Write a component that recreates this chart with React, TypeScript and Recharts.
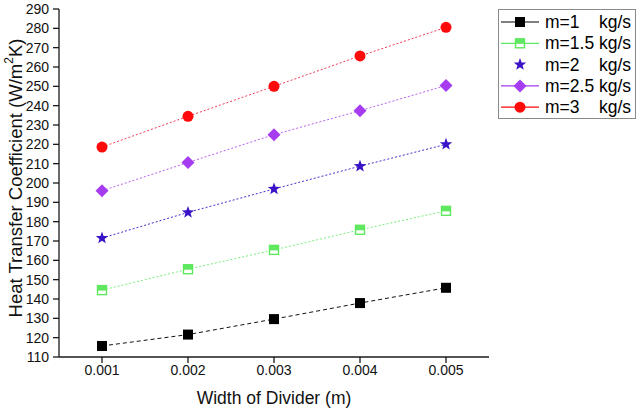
import React from "react";
import { Legend, Line, LineChart, XAxis, YAxis } from "recharts";

// Width of divider (m) and heat transfer coefficient per mass flow rate
const widths = [0.001, 0.002, 0.003, 0.004, 0.005];
const minorWidths = [0.0015, 0.0025, 0.0035, 0.0045];
const m1 = [115.7, 121.6, 129.6, 137.9, 145.8];
const m15 = [144.6, 155.4, 165.4, 175.8, 185.6];
const m2 = [171.5, 184.8, 196.9, 208.7, 220];
const m25 = [196, 210.6, 225, 237.4, 250.4];
const m3 = [218.6, 234.5, 250, 265.7, 280.5];

const yTicks = [110, 120, 130, 140, 150, 160, 170, 180, 190, 200, 210, 220, 230, 240, 250, 260, 270, 280, 290];
const yMinor = [115, 125, 135, 145, 155, 165, 175, 185, 195, 205, 215, 225, 235, 245, 255, 265, 275, 285];

type Shape = "square" | "halfSquare" | "star" | "diamond" | "circle";

const series: {
  key: string;
  name: string;
  values: number[];
  shape: Shape;
  color: string;
  line: string;
  dash: string;
  legendLine: boolean;
}[] = [
  { key: "m1", name: "m=1", values: m1, shape: "square", color: "#000000", line: "#111111", dash: "4 3", legendLine: true },
  { key: "m15", name: "m=1.5", values: m15, shape: "halfSquare", color: "#5fe85f", line: "#7aee7a", dash: "2 2", legendLine: true },
  { key: "m2", name: "m=2", values: m2, shape: "star", color: "#3a12c8", line: "#4a2ad0", dash: "2 2", legendLine: false },
  { key: "m25", name: "m=2.5", values: m25, shape: "diamond", color: "#a53cf0", line: "#b462f0", dash: "2 2", legendLine: true },
  { key: "m3", name: "m=3", values: m3, shape: "circle", color: "#ff0a0a", line: "#ee3a55", dash: "2 2", legendLine: true },
];

const data = widths.map((w, i) => {
  const row: Record<string, number> = { w };
  series.forEach((s) => {
    row[s.key] = s.values[i];
  });
  return row;
});

const FONT = '"Liberation Sans", Arial, Helvetica, sans-serif';
const AXIS = "#1a1a1a";

function starPath(cx: number, cy: number, ro: number, ri: number): string {
  const pts: string[] = [];
  for (let i = 0; i < 10; i++) {
    const r = i % 2 === 0 ? ro : ri;
    const a = -Math.PI / 2 + (i * Math.PI) / 5;
    pts.push(`${(cx + r * Math.cos(a)).toFixed(2)},${(cy + r * Math.sin(a)).toFixed(2)}`);
  }
  return `M${pts.join("L")}Z`;
}

function Marker({ shape, cx, cy, color }: { shape: Shape; cx: number; cy: number; color: string }) {
  switch (shape) {
    case "square":
      return <rect x={cx - 5} y={cy - 5} width={10} height={10} fill={color} />;
    case "halfSquare":
      return (
        <g>
          <rect x={cx - 4.5} y={cy - 4.5} width={9} height={9} fill="#ffffff" stroke={color} strokeWidth={1.4} />
          <rect x={cx - 4.5} y={cy - 4.5} width={9} height={5} fill={color} />
        </g>
      );
    case "star":
      return <path d={starPath(cx, cy, 6.5, 2.7)} fill={color} />;
    case "diamond":
      return (
        <polygon
          points={`${cx},${cy - 6.5} ${cx + 6.5},${cy} ${cx},${cy + 6.5} ${cx - 6.5},${cy}`}
          fill={color}
        />
      );
    default:
      return <circle cx={cx} cy={cy} r={5.5} fill={color} />;
  }
}

function LegendBox() {
  const rowH = 21.3;
  return (
    <svg width={138} height={110} style={{ display: "block" }}>
      <rect x={0.5} y={0.5} width={137} height={109} fill="#ffffff" stroke="#8a8a8a" strokeWidth={1} />
      {series.map((s, i) => {
        const cy = 13 + i * rowH;
        return (
          <g key={s.key}>
            {s.legendLine && <line x1={3} x2={41} y1={cy} y2={cy} stroke={s.line === "#111111" ? "#000" : s.color} strokeWidth={1.2} />}
            <Marker shape={s.shape} cx={22} cy={cy} color={s.color} />
            <text x={47} y={cy} dominantBaseline="central" fontSize={17.5} fontFamily={FONT} fill="#000">
              {s.name}
            </text>
            <text x={101} y={cy} dominantBaseline="central" fontSize={17.5} fontFamily={FONT} fill="#000">
              kg/s
            </text>
          </g>
        );
      })}
    </svg>
  );
}

function YTitle(props: any) {
  const vb = props.viewBox || { x: 0, y: 9, width: 59, height: 348 };
  const cx = vb.x + 15;
  const cy = vb.y + vb.height / 2 - 5;
  return (
    <text
      x={cx}
      y={cy}
      transform={`rotate(-90, ${cx}, ${cy})`}
      textAnchor="middle"
      dominantBaseline="central"
      fontSize={18.5}
      fontFamily={FONT}
      fill="#111"
    >
      Heat Transfer Coefficient (W/m
      <tspan dy={-6} fontSize={12}>
        2
      </tspan>
      <tspan dy={6}>K)</tspan>
    </text>
  );
}

export default function App() {
  const tickStyle = { fontSize: 14, fill: "#111", fontFamily: FONT };
  return (
    <div style={{ position: "absolute", left: 0, top: 0, width: 640, height: 409, background: "#fff" }}>
      <LineChart width={640} height={409} data={data} margin={{ top: 9, right: 151, bottom: 0, left: 0 }}>
        <XAxis
          dataKey="w"
          type="number"
          domain={[0.0005, 0.0055]}
          ticks={widths}
          interval={0}
          allowDataOverflow
          tickFormatter={(v: number) => v.toFixed(3)}
          tick={tickStyle}
          tickSize={6}
          tickMargin={2}
          height={52}
          stroke={AXIS}
          strokeWidth={1.3}
          label={{
            value: "Width of Divider (m)",
            position: "insideBottom",
            offset: 5,
            style: { fontSize: 17.5, fill: "#111", fontFamily: FONT },
          }}
        />
        <XAxis
          xAxisId="minor"
          dataKey="w"
          type="number"
          domain={[0.0005, 0.0055]}
          ticks={minorWidths}
          interval={0}
          allowDataOverflow
          tick={false}
          tickSize={3.5}
          axisLine={false}
          height={0}
          stroke={AXIS}
          strokeWidth={1.2}
        />
        <XAxis
          xAxisId="top"
          orientation="top"
          dataKey="w"
          type="number"
          domain={[0.0005, 0.0055]}
          tick={false}
          tickLine={false}
          height={0}
          stroke={AXIS}
          strokeWidth={1.3}
        />
        <YAxis
          type="number"
          domain={[110, 290]}
          ticks={yTicks}
          interval={0}
          allowDataOverflow
          tick={tickStyle}
          tickSize={6}
          tickMargin={4}
          width={59}
          stroke={AXIS}
          strokeWidth={1.3}
          label={<YTitle />}
        />
        <YAxis
          yAxisId="minor"
          type="number"
          domain={[110, 290]}
          ticks={yMinor}
          interval={0}
          allowDataOverflow
          tick={false}
          tickSize={3.5}
          axisLine={false}
          width={0}
          stroke={AXIS}
          strokeWidth={1.2}
        />
        <YAxis
          yAxisId="right"
          orientation="right"
          type="number"
          domain={[110, 290]}
          tick={false}
          tickLine={false}
          width={0}
          stroke={AXIS}
          strokeWidth={1.3}
        />
        <Legend
          layout="vertical"
          align="center"
          verticalAlign="middle"
          content={() => <LegendBox />}
          wrapperStyle={{ position: "absolute", left: 498, top: 9, width: 138, height: 110 }}
        />
        {series.map((s) => (
          <Line
            key={s.key}
            dataKey={s.key}
            name={s.name}
            stroke={s.line}
            strokeWidth={1}
            strokeDasharray={s.dash}
            isAnimationActive={false}
            dot={(p: any) => (
              <Marker key={`${s.key}-${p.index}`} shape={s.shape} cx={p.cx} cy={p.cy} color={s.color} />
            )}
            activeDot={false}
          />
        ))}
      </LineChart>
    </div>
  );
}
